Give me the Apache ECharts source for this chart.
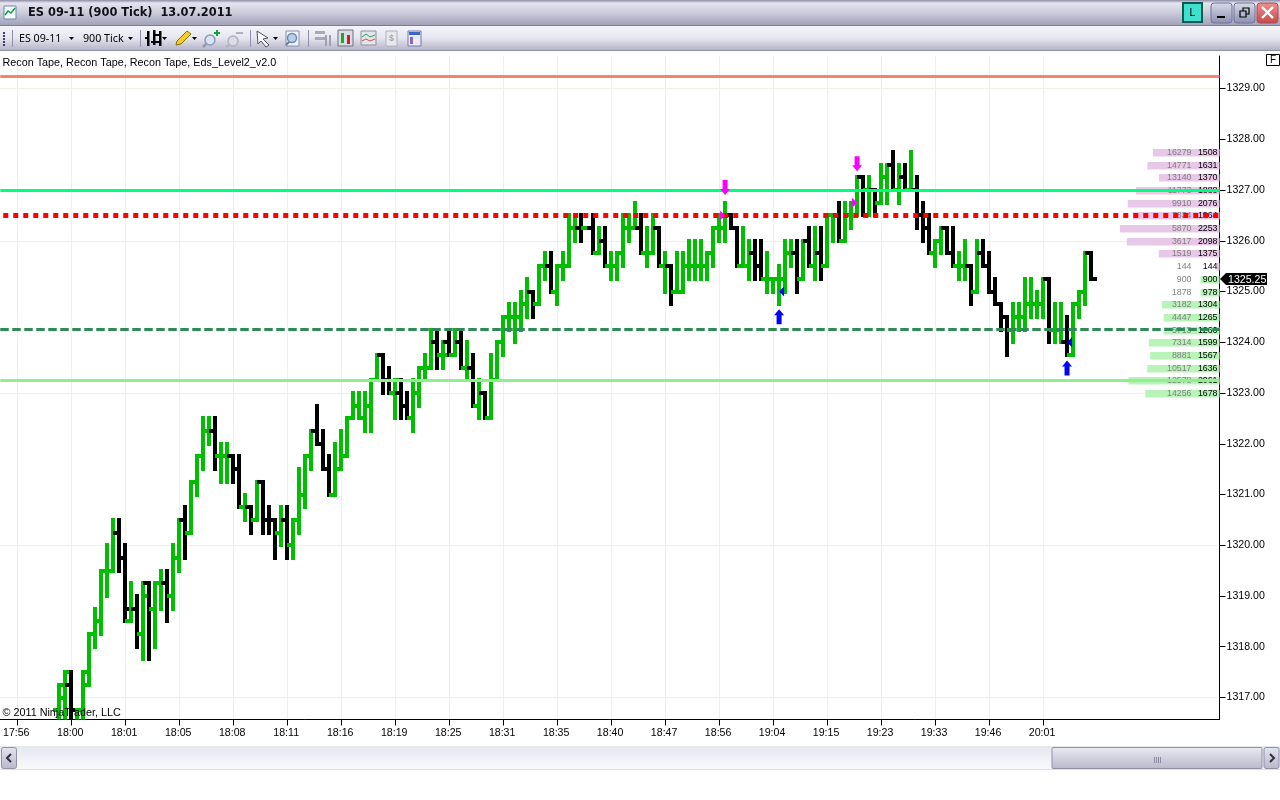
<!DOCTYPE html>
<html><head><meta charset="utf-8"><title>ES 09-11 (900 Tick) 13.07.2011</title>
<style>html,body{margin:0;padding:0;background:#fff;overflow:hidden}#chart{position:absolute;left:0;top:0;width:1280px;height:800px}</style>
<script src="https://cdn.jsdelivr.net/npm/echarts@6/dist/echarts.min.js"></script>
</head><body><div id="chart"></div>
<script>
const timeLabels = ['17:56','18:00','18:01','18:05','18:08','18:11','18:16','18:19','18:25','18:31','18:35','18:40','18:47','18:56','19:04','19:15','19:23','19:33','19:46','20:01'];
const priceTicks = [1317,1318,1319,1320,1321,1322,1323,1324,1325,1326,1327,1328,1329];
const gridPrices = [1317,1320,1323,1326,1329];
const opens = [
1316.75,1317,1317.25,1316.5,1316.75,1317.25,1318.25,1318.5,1319.5,1319.5,
1320.25,1319.75,1318.5,1318.75,1318.25,1319.25,1318.75,1319.25,1319.25,1319,
1319.75,1320.5,1320.25,1321.25,1321.75,1322.25,1322.25,1321.75,1321.75,1321.75,
1321.5,1320.75,1320.75,1320.5,1321.25,1320.5,1320.5,1320.25,1320.5,1320,
1320.5,1321,1321.75,1322.25,1322,1321.5,1321,1321.5,1321.75,1322.5,
1322.75,1322.5,1322.75,1323.25,1323.75,1323.25,1323,1323,1322.75,1322.5,
1323,1323.5,1323.5,1324,1323.75,1324,1323.75,1324,1323.5,1323.5,
1322.75,1323,1322.5,1323.25,1324,1324.5,1324.5,1324.5,1324.75,1325,
1324.75,1325.5,1325.5,1325,1325.5,1325.5,1326.25,1326.25,1326.25,1326.25,
1325.75,1326,1325.5,1325.5,1325.75,1326.25,1326.25,1326.25,1325.75,1325.75,
1326.25,1325.5,1325.5,1325,1325,1325.5,1325.5,1325.5,1325.5,1325.75,
1326.25,1326.25,1326.5,1326.25,1325.5,1325.5,1325.75,1325.5,1325.25,1325.25,
1325.25,1325.25,1325.75,1325.75,1325.25,1326,1325.5,1325.75,1325.5,1326.5,
1326.5,1326,1326.5,1326.75,1327.25,1327,1327,1326.75,1327.25,1327.5,
1327,1327.25,1327,1327,1326.5,1326.25,1325.75,1326,1326.25,1325.75,
1325.5,1325.5,1325.5,1325,1325.75,1325.5,1325,1324.75,1324.5,1324.25,
1324.5,1324.5,1324.75,1324.75,1324.75,1325.25,1324.25,1324.25,1324,1323.75,
1324.75,1325,1325.75];
const highs = [
1317.25,1317.5,1317.5,1316.75,1317.5,1318.25,1318.75,1319.5,1320,1320.5,
1320.5,1320,1319.25,1319,1319.25,1319.25,1319.25,1319.5,1319.5,1320,
1320.5,1320.75,1321.25,1321.75,1322.5,1322.5,1322.5,1322,1322,1321.75,
1321.75,1321,1320.75,1321.25,1321.25,1320.75,1320.5,1320.75,1320.75,1320.5,
1321.5,1321.75,1322.25,1322.75,1322.25,1321.75,1322,1322.25,1322.5,1323,
1323,1323,1323.25,1323.75,1323.75,1323.5,1323.25,1323.25,1323,1323.25,
1323.5,1323.75,1324.25,1324.25,1324,1324.25,1324.25,1324.25,1324,1323.75,
1323.25,1323,1323.75,1324,1324.5,1324.75,1324.75,1325,1325.25,1325,
1325.5,1325.75,1325.75,1325.5,1325.75,1326.5,1326.5,1326.5,1326.25,1326.5,
1326.25,1326.25,1325.75,1325.75,1326.5,1326.5,1326.75,1326.5,1326.25,1326.5,
1326.25,1325.75,1325.5,1325.75,1325.75,1326,1326,1326,1325.75,1326.25,
1326.5,1326.75,1326.5,1326.25,1326.25,1326,1326,1326,1325.75,1325.25,
1325.5,1326,1326,1326,1326,1326.25,1326.25,1326.25,1326.5,1326.5,
1326.75,1326.75,1326.75,1327.25,1327.25,1327.25,1327,1327.5,1327.5,1327.75,
1327.5,1327.5,1327.75,1327.25,1326.75,1326.5,1326,1326.25,1326.25,1326.25,
1325.75,1326,1325.5,1326,1326,1325.75,1325.25,1324.75,1324.5,1324.75,
1324.75,1325.25,1325.25,1325,1325.25,1325.25,1324.75,1324.75,1324.5,1324.75,
1325,1325.75,1325.75];
const lows = [
1316.5,1316.5,1316.5,1316.5,1316.5,1317.25,1318,1318.25,1319,1319.5,
1319.5,1318.5,1318.5,1318,1317.75,1317.75,1318,1318.75,1318.5,1318.75,
1319.5,1319.75,1320.25,1321,1321.5,1322,1321.5,1321.25,1321.25,1321.25,
1320.75,1320.5,1320.25,1320.5,1320.25,1320.25,1319.75,1320,1319.75,1319.75,
1320.25,1320.75,1321.5,1322,1321.5,1321,1321,1321.5,1321.75,1322.5,
1322.5,1322.25,1322.25,1323.25,1323,1323,1322.5,1322.5,1322.5,1322.25,
1322.75,1323.25,1323.5,1323.5,1323.5,1323.75,1323.75,1323.5,1323.25,1322.75,
1322.5,1322.5,1322.5,1323.25,1323.75,1324.25,1324,1324.25,1324.5,1324.5,
1324.75,1325.25,1325,1324.75,1325.25,1325.5,1326,1326,1326.25,1325.75,
1325.75,1325.5,1325.25,1325.25,1325.5,1326,1326.25,1325.75,1325.5,1325.75,
1325.5,1325,1324.75,1325,1325,1325.25,1325.25,1325.25,1325.25,1325.5,
1326,1326,1326.25,1325.5,1325.5,1325.25,1325.25,1325.25,1325,1325,
1324.75,1325,1325.5,1325,1325.25,1325.5,1325.25,1325.25,1325.5,1326,
1326,1326,1326.25,1326.5,1326.5,1326.5,1326.5,1326.75,1326.75,1327,
1326.75,1327,1327,1326.25,1326,1325.75,1325.5,1325.75,1325.75,1325.5,
1325.25,1325.25,1324.75,1325,1325.5,1325,1324.75,1324.25,1323.75,1324,
1324.25,1324.25,1324.5,1324.5,1324.5,1324,1324,1324,1323.75,1323.75,
1324.5,1324.75,1325.25];
const closes = [
1317.25,1317.5,1316.75,1316.75,1317.5,1318.25,1318.5,1319.5,1319.5,1320.25,
1319.75,1318.75,1318.75,1318.25,1319,1318.75,1319.25,1319.25,1319,1319.75,
1320.5,1320.25,1321.25,1321.75,1322.25,1322.25,1321.75,1321.75,1321.75,1321.5,
1320.75,1320.75,1320.5,1321.25,1320.5,1320.5,1320.25,1320.5,1320,1320.5,
1321,1321.75,1322.25,1322,1321.5,1321,1321.5,1321.75,1322.5,1322.75,
1322.5,1322.75,1323.25,1323.75,1323.25,1323,1323.25,1322.75,1322.5,1323,
1323.5,1323.5,1324,1323.75,1323.75,1323.75,1324,1323.5,1323.5,1322.75,
1323,1322.5,1323.25,1324,1324.5,1324.5,1324.5,1324.75,1325,1324.75,
1325.5,1325.5,1325,1325.5,1325.5,1326.25,1326.25,1326.25,1326.25,1325.75,
1326,1325.5,1325.5,1325.75,1326.25,1326.25,1326.25,1325.75,1325.75,1326.25,
1325.5,1325.5,1325,1325,1325.5,1325.5,1325.5,1325.5,1325.75,1326.25,
1326.25,1326.5,1326.25,1325.5,1325.5,1325.75,1325.5,1325.25,1325.25,1325.25,
1325.25,1325.75,1325.75,1325.25,1326,1325.5,1325.75,1325.5,1326.5,1326.5,
1326,1326.5,1326.75,1327.25,1327,1327,1326.75,1327.25,1327.5,1327,
1327.25,1327,1327,1326.5,1326.25,1325.75,1326,1326.25,1325.75,1325.5,
1325.5,1325.5,1325,1325.75,1325.5,1325,1324.75,1324.5,1324.25,1324.5,
1324.5,1324.75,1324.75,1324.75,1325.25,1324.25,1324.25,1324,1323.75,1324.75,
1325,1325.75,1325.25];
const barUp = [
1,1,0,1,1,1,1,1,1,1, 0,0,1,0,1,0,1,1,0,1, 1,0,1,1,1,1,0,1,1,0, 0,1,0,1,0,0,0,1,0,1,
1,1,1,0,0,0,1,1,1,1, 1,1,1,1,0,0,1,0,0,1, 1,1,1,0,1,0,1,0,1,0, 1,0,1,1,1,1,1,1,1,0,
1,1,0,1,1,1,1,0,1,0, 1,0,1,1,1,1,1,0,1,1, 0,1,0,1,1,1,1,1,1,1, 1,1,0,0,1,1,0,0,1,1,
1,1,1,0,1,0,1,0,1,1, 0,1,1,1,0,1,0,1,1,0, 1,0,1,0,0,0,1,1,0,0, 1,1,0,1,0,0,0,0,0,1,
1,1,1,1,1,0,1,1,0,1, 1,1,0];
const levelPrices = [1329.25,1327,1326.5,1324.25,1323.25];
const lastPrice = 1325.25;
const askPrices = [1327.75,1327.5,1327.25,1327,1326.75,1326.5,1326.25,1326,1325.75,1325.5];
const askCumulative = [16279,14771,13140,11773,9910,7834,5870,3617,1519,144];
const askVolume = [1508,1631,1370,1888,2076,1964,2253,2098,1375,144];
const askBarVolume = [1508,1631,1370,1888,2076,1964,2253,2098,1375,75];
const bidPrices = [1325.25,1325,1324.75,1324.5,1324.25,1324,1323.75,1323.5,1323.25,1323];
const bidCumulative = [900,1878,3182,4447,5713,7314,8881,10517,12578,14256];
const bidVolume = [900,978,1304,1265,1266,1599,1567,1636,2061,1678];
const bidBarVolume = [430,430,1304,1265,1266,1599,1567,1636,2061,1678];
const downArrowBars = [111,133], downArrowPrices = [1326.9,1327.37];
const upArrowBars = [120,168], upArrowPrices = [1324.65,1323.64];
const sellMarkBars = [111,133], sellMarkPrices = [1326.5,1326.75];
const buyMarkBars = [120,168], buyMarkPrices = [1325,1324];

const GREEN='#00BF00', FONT='"Liberation Sans",Arial,sans-serif';
const barRows = opens.map((o,i)=>[i,o,highs[i],lows[i],closes[i],barUp[i]]);
const tickBars = timeLabels.map((_,k)=>-7+9*k);
const r=(x,y,width,height,fill,z)=>({type:'rect',shape:{x,y,width,height},style:{fill},z:z||2});

function renderBar(p,api){
  const i=api.value(0), o=api.coord([i,api.value(1)]), h=api.coord([i,api.value(2)]), l=api.coord([i,api.value(3)]), c=api.coord([i,api.value(4)]);
  const fill=api.value(5)?GREEN:'#000', x=Math.round(o[0]);
  return {type:'group',children:[
    r(x-2,Math.round(h[1])-2,4,Math.round(l[1])-Math.round(h[1])+4,fill),
    r(x-6,Math.round(o[1])-2,6,4,fill),
    r(x,Math.round(c[1])-2,6,4,fill)
  ]};
}
const poly=(points,fill)=>({type:'polygon',shape:{points},style:{fill}});
function renderDown(p,api){const c=api.coord([api.value(0),api.value(1)]),x=c[0],y=c[1];
  return poly([[x,y],[x-5,y-6],[x-2.5,y-6],[x-2.5,y-15],[x+2.5,y-15],[x+2.5,y-6],[x+5,y-6]],'#FF00FF');}
function renderUp(p,api){const c=api.coord([api.value(0),api.value(1)]),x=c[0],y=c[1];
  return poly([[x,y],[x-5,y+6],[x-2.5,y+6],[x-2.5,y+15],[x+2.5,y+15],[x+2.5,y+6],[x+5,y+6]],'#0000FF');}
function renderSell(p,api){const c=api.coord([api.value(0),api.value(1)]),x=c[0],y=c[1];
  return poly([[x,y],[x-5,y-5],[x-5,y+5]],'#FF00FF');}
function renderBuy(p,api){const c=api.coord([api.value(0),api.value(1)]),x=c[0],y=c[1];
  return poly([[x,y],[x+5,y-5],[x+5,y+5]],'#0000FF');}
function profileRenderer(fill){return function(p,api){
  const a=api.coord([0,api.value(0)]), b=api.coord([api.value(1),api.value(0)]), y=Math.round(a[1]);
  return {type:'group',children:[
    {type:'rect',shape:{x:b[0],y:y-3,width:a[0]-b[0],height:7.5},style:{fill}},
    {type:'text',style:{x:1191.5,y:y+1,text:String(api.value(2)),fill:'#808080',font:'8.8px '+FONT,textAlign:'right',textVerticalAlign:'middle'}},
    {type:'text',style:{x:1217.5,y:y+1,text:String(api.value(3)),fill:'#000',font:'8.8px '+FONT,textAlign:'right',textVerticalAlign:'middle'}}
  ]};
};}
function renderTag(p,api){
  const y=Math.round(api.coord([0,api.value(0)])[1]);
  return {type:'group',children:[
    poly([[1220,y],[1226,y-6],[1267,y-6],[1267,y+6],[1226,y+6]],'#000'),
    {type:'text',style:{x:1228,y:y+1,text:api.value(0).toFixed(2),fill:'#fff',font:'10.6px '+FONT,textVerticalAlign:'middle'}}
  ]};
}
const noAxis={xAxisIndex:0,yAxisIndex:0};
const levelStyles=[
 {color:'#FA8072',width:3,type:'solid'},
 {color:'#00FF7F',width:3,type:'solid'},
 {color:'#FF0000',width:5,type:[5,5],dashOffset:7},
 {color:'#2E8B57',width:3,type:[8.5,3.5]},
 {color:'#90EE90',width:3,type:'solid'}];

// window chrome
const gv=(stops)=>new echarts.graphic.LinearGradient(0,0,0,1,stops.map((c,i)=>({offset:c[0],color:c[1]})));
const Z=100;
const R=(x,y,w,h,fill,extra)=>Object.assign({type:'rect',silent:true,z:Z,shape:{x,y,width:w,height:h,r:extra&&extra.r||0},style:Object.assign({fill},extra&&extra.style||{})},extra&&extra.top?{z:extra.top}:{});
const T=(text,x,y,font,fill,align)=>({type:'text',silent:true,z:Z+2,x,y,style:{text,font,fill:fill||'#000',textAlign:align||'left',textVerticalAlign:'middle'}});
const L=(x1,y1,x2,y2,stroke,w)=>({type:'line',silent:true,z:Z+1,shape:{x1,y1,x2,y2},style:{stroke,lineWidth:w||1}});
const P=(pts,fill,stroke)=>({type:'polygon',silent:true,z:Z+1,shape:{points:pts},style:{fill,stroke:stroke||null,lineWidth:1}});
const C=(cx,cy,rr,fill,stroke)=>({type:'circle',silent:true,z:Z+1,shape:{cx,cy,r:rr},style:{fill,stroke:stroke||null,lineWidth:1.5}});
const chrome=[
 R(0,0,1280,25,gv([[0,'#8b8ba6'],[.12,'#e4e4ee'],[.45,'#d0d0de'],[1,'#a2a2ba']])),
 R(0,25,1280,1,'#7c7c96'),
 R(0,26,1280,24,gv([[0,'#f4f4fa'],[.5,'#e6e6f0'],[1,'#b4b4c8']])),
 R(0,50,1280,1,'#8e8ea6'),
 // title icon
 R(4,6,12,13,'#f4f8ff',{style:{stroke:'#7088a8',lineWidth:1}}),
 {type:'polyline',silent:true,z:Z+1,shape:{points:[[5,15],[8,11],[11,13],[15,8]]},style:{stroke:'#10a040',fill:null,lineWidth:1.5}},
 T('ES 09-11 (900 Tick)  13.07.2011',28,13.5,'bold 11.4px "DejaVu Sans"','#10101c'),
 // L + window buttons
 R(1183,3,19,19,'#40E0D0',{style:{stroke:'#0c5a50',lineWidth:2}}),
 T('L',1192.5,13,'10.5px '+FONT,'#000','center'),
 R(1211,3,21,20,gv([[0,'#d8dcea'],[1,'#8b90b0']]),{r:3,style:{stroke:'#70749a',lineWidth:1}}),
 R(1217,16,8,2,'#000',{top:Z+1}),
 R(1234,3,21,20,gv([[0,'#d8dcea'],[1,'#8b90b0']]),{r:3,style:{stroke:'#70749a',lineWidth:1}}),
 {type:'rect',silent:true,z:Z+1,shape:{x:1243,y:8,width:6,height:6},style:{fill:null,stroke:'#000',lineWidth:1.2}},
 {type:'rect',silent:true,z:Z+1,shape:{x:1240,y:11,width:6,height:6},style:{fill:'#b0b4cc',stroke:'#000',lineWidth:1.2}},
 R(1257,3,21,20,gv([[0,'#ee9090'],[1,'#c84848']]),{r:3,style:{stroke:'#a05058',lineWidth:1}}),
 L(1262,7,1273,18,'#fff',2.4),L(1273,7,1262,18,'#fff',2.4),
 // toolbar
 ...[32,35,38,41,44].map(y=>R(3,y,2,2,'#40406a',{top:Z+1})),
 L(12.5,30,12.5,47,'#9090a8'),
 T('ES 09-11',19,38.5,'10.7px "Noto Sans"','#000'),
 P([[69,37],[74,37],[71.5,40]],'#000'),
 T('900 Tick',83,38.5,'10.7px "Noto Sans"','#000'),
 P([[128,37],[133,37],[130.5,40]],'#000'),
 L(140.5,30,140.5,47,'#9090a8'),
 R(147,31,2.5,15,'#000',{top:Z+1}),R(153,30,2.5,15,'#000',{top:Z+1}),R(159,31,2.5,15,'#000',{top:Z+1}),
 R(145,37,4,2,'#000',{top:Z+1}),R(151,41,8,2,'#000',{top:Z+1}),R(155,34,6,2,'#000',{top:Z+1}),
 P([[162,37],[167,37],[164.5,40]],'#000'),
 P([[176,45],[177,41],[187,31],[191,34],[181,44]],'#f5d020','#8a6a10'),
 P([[192,37],[197,37],[194.5,40]],'#000'),
 C(210,40,5,'#d8e4f4','#8a9ab8'),L(206,44,203,47,'#9098a8',2.5),L(214,33,220,33,'#10a040',2),L(217,30,217,36,'#10a040',2),
 C(233,41,5,'#dcdce6','#b0b0c0'),L(229,45,226,47,'#b4b4c4',2.5),L(236,33,243,33,'#b0b0c0',2),
 L(250.5,30,250.5,47,'#9090a8'),
 P([[257,31],[268,38],[263,39],[269,45],[266,47],[261,41],[258,44]],'#f8f8ff','#505068'),
 P([[273,37],[278,37],[275.5,40]],'#000'),
 R(286,31,13,15,'#eef2fa',{style:{stroke:'#8890a8',lineWidth:1}}),C(292,38,4.5,'#b8d0ec','#7088a8'),L(289,42,286,45,'#707890',2),
 L(308.5,30,308.5,47,'#9090a8'),
 R(315,31,10,3,'#a8a8b8'),R(315,37,10,3,'#a8a8b8'),R(325,35,2,11,'#a0a0b0'),R(329,35,2,11,'#a0a0b0'),
 R(338,30,15,16,'#dcdce4',{style:{stroke:'#707080',lineWidth:1}}),R(341,33,3,10,'#10b020',{top:Z+1}),R(347,35,3,9,'#d02020',{top:Z+1}),
 R(361,31,15,14,'#e4e4ec',{style:{stroke:'#9090a0',lineWidth:1}}),
 {type:'polyline',silent:true,z:Z+1,shape:{points:[[362,37],[366,34],[370,37],[375,35]]},style:{stroke:'#30a060',fill:null,lineWidth:1}},
 {type:'polyline',silent:true,z:Z+1,shape:{points:[[362,41],[366,39],[370,41],[375,39]]},style:{stroke:'#d05050',fill:null,lineWidth:1}},
 R(386,31,11,15,'#e8e8ee',{style:{stroke:'#b0b0bc',lineWidth:1}}),
 T('$',391.5,39,'bold 9px '+FONT,'#a8a8b4','center'),
 R(408,31,13,15,'#eceaf8',{style:{stroke:'#7878a0',lineWidth:1}}),R(409,32,11,3,'#3868c8',{top:Z+1}),R(410,37,3,7,'#8868b8',{top:Z+1}),
 // chart texts
 T('Recon Tape, Recon Tape, Recon Tape, Eds_Level2_v2.0',2.5,63,'10.8px '+FONT,'#000'),
 T('© 2011 NinjaTrader, LLC',2.5,713.5,'10.8px '+FONT,'#000'),
 R(1266.5,54.5,13,11,'#fff',{style:{stroke:'#000',lineWidth:1}}),
 T('F',1273,60.5,'10px '+FONT,'#000','center'),
 // scrollbar
 R(0,746,1280,24,gv([[0,'#e6e6f0'],[1,'#fafafd']])),
 L(0,769.5,1280,769.5,'#e0e0e8'),
 R(1.5,747.5,15,21,gv([[0,'#e4e4ee'],[1,'#b8b8cc']]),{r:2,style:{stroke:'#9090a8',lineWidth:1}}),
 {type:'polyline',silent:true,z:Z+1,shape:{points:[[11,754],[7,758],[11,762]]},style:{stroke:'#303040',fill:null,lineWidth:2}},
 R(1052,747.5,210,21,gv([[0,'#eaeaf2'],[1,'#b8b8cc']]),{r:1,style:{stroke:'#9090a8',lineWidth:1}}),
 ...[1154,1156,1158,1160].map(x=>L(x+.5,757,x+.5,763,'#8c8ca0')),
 R(1264,747.5,15,21,gv([[0,'#e4e4ee'],[1,'#b8b8cc']]),{r:2,style:{stroke:'#9090a8',lineWidth:1}}),
 {type:'polyline',silent:true,z:Z+1,shape:{points:[[1270,754],[1274,758],[1270,762]]},style:{stroke:'#303040',fill:null,lineWidth:2}}
];

const chart=echarts.init(document.getElementById('chart'),null,{width:1280,height:800});
chart.setOption({
 animation:false,backgroundColor:'#fff',
 grid:{left:0,top:56,width:1219.5,height:663.5,containLabel:false},
 xAxis:[{type:'value',min:-59/6,max:(1219.5-59)/6,position:'bottom',
   axisLine:{onZero:false,lineStyle:{color:'#000',width:1}},
   axisTick:{show:true,customValues:tickBars,length:6,lineStyle:{color:'#000'}},
   axisLabel:{customValues:tickBars,color:'#000',fontFamily:FONT,fontSize:10.6,margin:8,hideOverlap:false,padding:[0,2,0,0],
     formatter:v=>timeLabels[Math.round((v+7)/9)]},
   splitLine:{show:false}},
  {type:'value',min:0,max:1219.5/0.0442,inverse:true,show:false}],
 yAxis:[{type:'value',position:'right',min:1317-22/50.75,max:1329+32.5/50.75,
   axisLine:{show:true,onZero:false,lineStyle:{color:'#000',width:1}},
   axisTick:{show:true,customValues:priceTicks,length:6,lineStyle:{color:'#000'}},
   axisLabel:{customValues:priceTicks,color:'#000',fontFamily:FONT,fontSize:10.6,margin:7,hideOverlap:false,padding:[3,0,0,0],formatter:v=>v.toFixed(2)},
   splitLine:{show:false}}],
 graphic:chrome,
 series:[
  {type:'line',data:[],...noAxis,silent:true,markLine:{silent:true,z:0,symbol:'none',animation:false,label:{show:false},
    lineStyle:{color:'#EFEFE4',width:1,type:'solid'},
    data:[...tickBars.map(v=>({xAxis:v})),...gridPrices.map(v=>({yAxis:v}))]}},
  {type:'custom',name:'ES 09-11',...noAxis,z:2,clip:true,silent:true,renderItem:renderBar,data:barRows,encode:{x:0,y:[1,2,3,4]}},
  {type:'custom',name:'Ask profile',xAxisIndex:1,yAxisIndex:0,z:3,clip:false,silent:true,renderItem:profileRenderer('#E8C8E8'),
   data:askPrices.map((p,i)=>[p,askBarVolume[i],askCumulative[i],askVolume[i]]),encode:{x:1,y:0}},
  {type:'custom',name:'Bid profile',xAxisIndex:1,yAxisIndex:0,z:3,clip:false,silent:true,renderItem:profileRenderer('#B8F4B8'),
   data:bidPrices.map((p,i)=>[p,bidBarVolume[i],bidCumulative[i],bidVolume[i]]),encode:{x:1,y:0}},
  {type:'line',data:[],...noAxis,silent:true,markLine:{silent:true,z:6,symbol:'none',animation:false,label:{show:false},
    data:levelPrices.map((v,i)=>({yAxis:v,lineStyle:levelStyles[i]}))}},
  {type:'custom',name:'Down arrows',...noAxis,z:8,silent:true,renderItem:renderDown,data:downArrowBars.map((b,i)=>[b,downArrowPrices[i]])},
  {type:'custom',name:'Up arrows',...noAxis,z:8,silent:true,renderItem:renderUp,data:upArrowBars.map((b,i)=>[b,upArrowPrices[i]])},
  {type:'custom',name:'Sell marks',...noAxis,z:8,silent:true,renderItem:renderSell,data:sellMarkBars.map((b,i)=>[b,sellMarkPrices[i]])},
  {type:'custom',name:'Buy marks',...noAxis,z:8,silent:true,renderItem:renderBuy,data:buyMarkBars.map((b,i)=>[b,buyMarkPrices[i]])},
  {type:'custom',name:'Last price',xAxisIndex:1,yAxisIndex:0,z:9,clip:false,silent:true,renderItem:renderTag,data:[[lastPrice]],encode:{y:0}}
 ]
});
</script></body></html>
